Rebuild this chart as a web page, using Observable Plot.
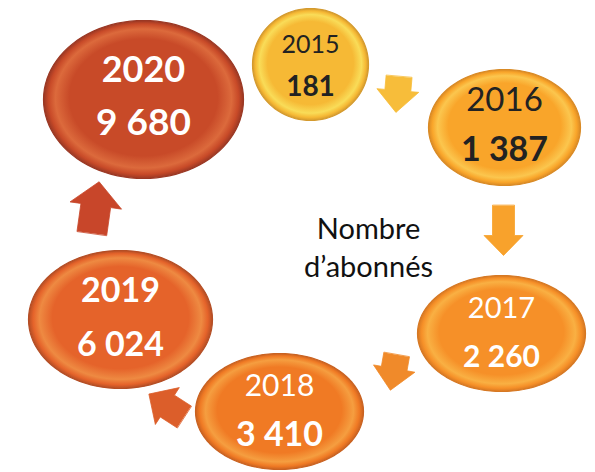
<!DOCTYPE html>
<html>
<head>
<meta charset="utf-8">
<script src="https://cdn.jsdelivr.net/npm/d3@7"></script>
<script src="https://cdn.jsdelivr.net/npm/@observablehq/plot@0.6"></script>
<style>
  html, body { margin: 0; padding: 0; background: #fff; }
  #chart svg { display: block; font-family: Lato, "Open Sans", sans-serif; }
</style>
</head>
<body>
<div id="chart"></div>
<script>
// ---- data ----
const years = [2015, 2016, 2017, 2018, 2019, 2020];
const subscribers = [181, 1387, 2260, 3410, 6024, 9680];
const centerLabel = ["Nombre", "d’abonnés"];

// ---- layout (diagram geometry) ----
const nodeX  = [310, 504, 501, 279, 120, 143];
const nodeY  = [64, 127, 333, 411, 319, 99];
const nodeRx = [58, 76, 84, 84, 92, 100];
const nodeRy = [56, 58, 58, 58, 69, 79];
const yearOffset  = [-20, -27, -25, -25, -28, -29];
const valueOffset = [23, 23, 24, 24, 26, 24];
const yearSize  = [25, 33, 29, 30, 34, 36];
const valueSize = [28, 34, 30, 34, 34, 37];
const yearBold  = [false, false, false, false, true, true];

const arrowX     = [397, 503, 393, 166, 95];
const arrowY     = [94, 230, 372, 405, 207];
const arrowAngle = [95, 90, 100, 213, 278];
const arrowLen   = [36, 50, 36, 42, 52];
const arrowHead  = [42, 39, 42, 44, 52];
const arrowShaft = [26, 22, 26, 26, 30];
const arrowHeadLen = [22, 20, 22, 22, 24];

const centerPos = {x: 368, y: 245};

// ---- styles ----
const baseColor = ["#f6b935", "#f9a52a", "#f69028", "#f07a24", "#e5632a", "#c84a28"];
const rimColor  = ["#f9dc58", "#fbc64e", "#f9b043", "#f59e40", "#ee8a42", "#dc6a3c"];
const edgeColor = ["#d49a2e", "#d98a25", "#d67823", "#c96221", "#b44e25", "#9a3824"];
const textColor = ["#222222", "#222222", "#ffffff", "#ffffff", "#ffffff", "#ffffff"];
const arrowColor = ["#f7bd3a", "#f8a22c", "#f08a2a", "#dc5e2a", "#c8462a"];

const fmt = n => d3.format(",")(n).replace(/,/g, " ");

const nodes = years.map((year, i) => ({
  i, year, value: subscribers[i], label: fmt(subscribers[i]),
  cx: nodeX[i], cy: nodeY[i], rx: nodeRx[i], ry: nodeRy[i]
}));

// ellipse outlines
const ellipsePts = nodes.flatMap(n => d3.range(96).map(k => {
  const t = (k / 96) * 2 * Math.PI;
  return {id: n.i, x: n.cx + n.rx * Math.cos(t), y: n.cy + n.ry * Math.sin(t), fill: `url(#grad${n.i})`, stroke: edgeColor[n.i]};
}));

// block arrows
const arrowPts = arrowX.flatMap((ax, i) => {
  const L = arrowLen[i], hw = arrowHead[i] / 2, sw = arrowShaft[i] / 2, hl = arrowHeadLen[i];
  const local = [[-L/2, -sw], [L/2 - hl, -sw], [L/2 - hl, -hw], [L/2, 0], [L/2 - hl, hw], [L/2 - hl, sw], [-L/2, sw]];
  const a = arrowAngle[i] * Math.PI / 180, c = Math.cos(a), s = Math.sin(a);
  return local.map(([u, v]) => ({id: i, x: ax + u * c - v * s, y: arrowY[i] + u * s + v * c, fill: arrowColor[i]}));
});

const plot = Plot.plot({
  width: 595,
  height: 472,
  margin: 0,
  x: {domain: [0, 595], range: [0, 595], axis: null},
  y: {domain: [0, 472], range: [0, 472], axis: null},
  color: {type: "identity"},
  marks: [
    Plot.line(arrowPts, {x: "x", y: "y", z: "id", fill: "fill", stroke: "fill", strokeWidth: 0.8, curve: "linear-closed"}),
    Plot.line(ellipsePts, {x: "x", y: "y", z: "id", fill: "fill", stroke: "stroke", strokeWidth: 1.2, curve: "linear-closed"}),
    Plot.text(nodes.filter(d => !yearBold[d.i]), {x: "cx", y: d => d.cy + yearOffset[d.i], text: d => String(d.year), fontSize: d => yearSize[d.i], fill: d => textColor[d.i], fontWeight: "normal"}),
    Plot.text(nodes.filter(d => yearBold[d.i]), {x: "cx", y: d => d.cy + yearOffset[d.i], text: d => String(d.year), fontSize: d => yearSize[d.i], fill: d => textColor[d.i], fontWeight: "bold"}),
    Plot.text(nodes, {x: "cx", y: d => d.cy + valueOffset[d.i], text: "label", fontSize: d => valueSize[d.i], fill: d => textColor[d.i], fontWeight: "bold"}),
    Plot.text([centerLabel.join("\n")], {x: centerPos.x, y: centerPos.y, text: d => d, fontSize: 29, lineHeight: 1.31, fill: "#111111"})
  ]
});

// gradient definitions for the glossy ellipses
const ns = "http://www.w3.org/2000/svg";
const defs = document.createElementNS(ns, "defs");
nodes.forEach(n => {
  const g = document.createElementNS(ns, "radialGradient");
  g.setAttribute("id", `grad${n.i}`);
  g.setAttribute("cx", "50%"); g.setAttribute("cy", "50%"); g.setAttribute("r", "50%");
  g.setAttribute("fx", "50%"); g.setAttribute("fy", "45%");
  [[0, baseColor[n.i]], [0.74, baseColor[n.i]], [0.88, rimColor[n.i]], [0.95, baseColor[n.i]], [1, edgeColor[n.i]]].forEach(([o, c]) => {
    const s = document.createElementNS(ns, "stop");
    s.setAttribute("offset", o); s.setAttribute("stop-color", c);
    g.appendChild(s);
  });
  defs.appendChild(g);
});
plot.insertBefore(defs, plot.firstChild);
document.getElementById("chart").appendChild(plot);
</script>
</body>
</html>
